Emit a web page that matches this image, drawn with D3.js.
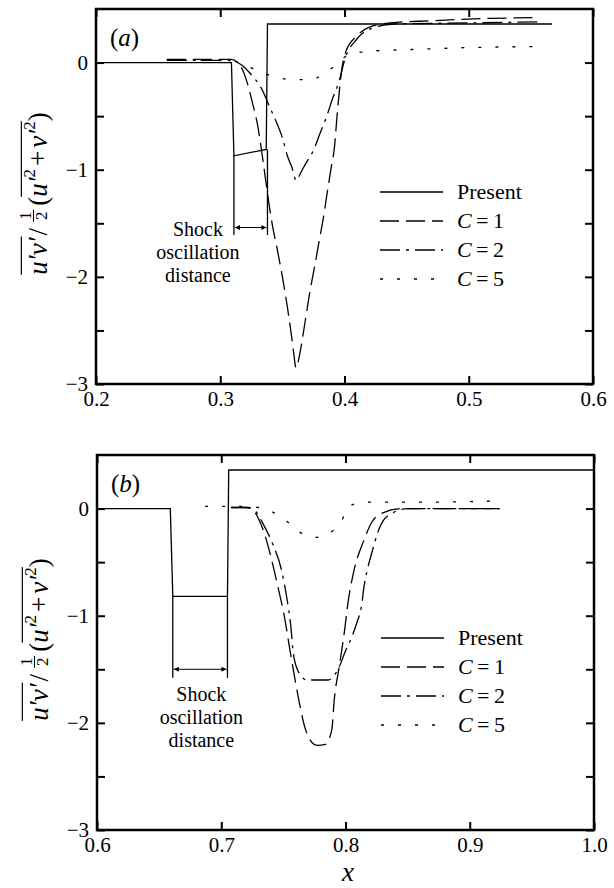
<!DOCTYPE html>
<html>
<head>
<meta charset="utf-8">
<script src="https://cdn.jsdelivr.net/npm/d3@7"></script>
<style>
  body { margin: 0; background: #fff; }
  svg { display: block; }
  text { font-family: "Liberation Serif", "Times New Roman", serif; fill: #000; }
</style>
</head>
<body>
<div id="chart"></div>
<script>
// ---- data: [x, u'v' / (1/2)(u'^2+v'^2)] ----

// panel (a)
var presentA = [[0.2, 0], [0.309, 0], [0.311, -0.87], [0.337, -0.81], [0.338, 0.36], [0.567, 0.36]];
var c1A = [[0.257, 0.03], [0.300, 0.03], [0.309, 0.03], [0.314, 0.0], [0.318, -0.07], [0.322, -0.2],
  [0.326, -0.38], [0.330, -0.58], [0.333, -0.8], [0.336, -1.05], [0.339, -1.3], [0.342, -1.52],
  [0.346, -1.75], [0.350, -2.0], [0.354, -2.28], [0.357, -2.52], [0.359, -2.7], [0.361, -2.85],
  [0.364, -2.72], [0.368, -2.44], [0.372, -2.15], [0.376, -1.9], [0.380, -1.64], [0.383, -1.45],
  [0.386, -1.22], [0.389, -1.0], [0.392, -0.78], [0.394, -0.5], [0.396, -0.25], [0.398, -0.05],
  [0.401, 0.1], [0.410, 0.25], [0.420, 0.33], [0.437, 0.37], [0.470, 0.39], [0.510, 0.41], [0.557, 0.42]];
var c2A = [[0.257, 0.02], [0.305, 0.02], [0.312, 0.01], [0.318, -0.03], [0.324, -0.1], [0.334, -0.26],
  [0.340, -0.42], [0.345, -0.55], [0.350, -0.7], [0.354, -0.87], [0.358, -0.99], [0.361, -1.1],
  [0.366, -1.0], [0.370, -0.92], [0.375, -0.82], [0.380, -0.67], [0.386, -0.49], [0.390, -0.35],
  [0.396, -0.16], [0.400, 0.02], [0.410, 0.22], [0.422, 0.32], [0.440, 0.36], [0.500, 0.37], [0.557, 0.38]];
var c5A = [[0.257, 0.02], [0.305, 0.02], [0.315, 0.0], [0.325, -0.05], [0.335, -0.1], [0.346, -0.14],
  [0.358, -0.16], [0.372, -0.16], [0.384, -0.1], [0.390, -0.05], [0.395, 0.0], [0.400, 0.05],
  [0.410, 0.09], [0.425, 0.11], [0.450, 0.12], [0.500, 0.14], [0.557, 0.15]];

// panel (b)
var presentB = [[0.6, 0], [0.659, 0], [0.661, -0.82], [0.705, -0.82], [0.706, 0.36], [1.0, 0.36]];
var c1B = [[0.708, 0.01], [0.720, 0.01], [0.726, -0.02], [0.731, -0.12], [0.736, -0.28], [0.741, -0.5],
  [0.746, -0.75], [0.751, -1.02], [0.755, -1.3], [0.759, -1.57], [0.763, -1.82], [0.767, -2.03],
  [0.771, -2.15], [0.777, -2.21], [0.784, -2.2], [0.789, -2.06], [0.791, -1.78], [0.795, -1.47],
  [0.799, -1.16], [0.802, -0.88], [0.807, -0.57], [0.815, -0.29], [0.821, -0.13], [0.830, -0.04],
  [0.845, 0.0], [0.924, 0.0]];
var c2B = [[0.708, 0.01], [0.722, 0.01], [0.728, -0.03], [0.734, -0.15], [0.741, -0.32], [0.749, -0.6],
  [0.753, -0.85], [0.756, -1.1], [0.758, -1.35], [0.762, -1.52], [0.769, -1.6], [0.786, -1.6],
  [0.794, -1.5], [0.800, -1.33], [0.805, -1.2], [0.809, -1.07], [0.813, -0.9], [0.815, -0.72],
  [0.818, -0.55], [0.822, -0.38], [0.826, -0.22], [0.830, -0.12], [0.838, -0.04], [0.850, 0.0], [0.924, 0.0]];
var c5B = [[0.687, 0.02], [0.720, 0.02], [0.730, 0.01], [0.741, -0.03], [0.753, -0.12], [0.763, -0.22],
  [0.775, -0.27], [0.787, -0.23], [0.797, -0.11], [0.803, 0.02], [0.810, 0.05], [0.817, 0.06],
  [0.860, 0.06], [0.920, 0.07]];

// shock positions (start / end of the oscillation)
var shockA = [0.311, 0.338];
var shockB = [0.661, 0.705];

// ticks and labels
var xTicksA = [0.2, 0.3, 0.4, 0.5, 0.6];
var xTicksB = [0.6, 0.7, 0.8, 0.9, 1.0];
var yTicks = [0, -0.5, -1, -1.5, -2, -2.5, -3];
var seriesNames = ["Present", "C = 1", "C = 2", "C = 5"];
var noteLines = ["Shock", "oscillation", "distance"];

// ---- layout ----
var W = 614, H = 888;
var width = 497, height = 375;
var dashes = [null, "19,7", "20,6,3,6", "3,14"];

var svg = d3.select("#chart")
  .append("svg")
  .attr("width", W)
  .attr("height", H);

svg.append("rect").attr("width", W).attr("height", H).attr("fill", "#fff");

function drawPanel(opt) {
  var g = svg.append("g")
    .attr("transform", "translate(" + opt.left + "," + opt.top + ")");

  var x = d3.scaleLinear().domain([opt.xTicks[0], opt.xTicks[opt.xTicks.length - 1]]).range([0, width]);
  var y = d3.scaleLinear().domain([-3, 0.5]).range([height, 0]);

  // bottom axis with labels, ticks inward
  var bx = g.append("g")
    .attr("transform", "translate(0," + height + ")")
    .call(d3.axisBottom(x).tickValues(opt.xTicks).tickSize(-8).tickPadding(7).tickFormat(d3.format(".1f")));
  // top
  var tx = g.append("g")
    .call(d3.axisTop(x).tickValues(opt.xTicks).tickSize(-8).tickFormat(""));
  // left with integer labels
  var ly = g.append("g")
    .call(d3.axisLeft(y).tickValues(yTicks).tickSize(-8).tickPadding(8)
      .tickFormat(function(d) {
        if (d % 1 !== 0) return "";
        return d < 0 ? "\u2212" + Math.abs(d) : "0";
      }));
  // right
  var ry = g.append("g")
    .attr("transform", "translate(" + width + ",0)")
    .call(d3.axisRight(y).tickValues(yTicks).tickSize(-8).tickFormat(""));

  [bx, tx, ly, ry].forEach(function(a) {
    a.select(".domain").remove();
    a.attr("font-size", 21).attr("font-family", null);
    a.selectAll("line").attr("stroke", "#000").attr("stroke-width", 2);
  });

  // frame
  g.append("rect")
    .attr("width", width)
    .attr("height", height)
    .attr("fill", "none")
    .attr("stroke", "#000")
    .attr("stroke-width", 2.5);

  // curves
  var straight = d3.line().x(function(d) { return x(d[0]); }).y(function(d) { return y(d[1]); });
  var smooth = d3.line().x(function(d) { return x(d[0]); }).y(function(d) { return y(d[1]); })
    .curve(d3.curveMonotoneX);

  opt.series.forEach(function(s, i) {
    g.append("path")
      .datum(s)
      .attr("d", i === 0 ? straight : smooth)
      .attr("fill", "none")
      .attr("stroke", "#000")
      .attr("stroke-width", 1.3)
      .attr("stroke-dasharray", dashes[i]);
  });

  // shock oscillation distance marker
  var sh = opt.shock;
  var topY = [opt.series[0][2][1], opt.series[0][3][1]];
  sh.forEach(function(s, i) {
    g.append("line")
      .attr("x1", x(s)).attr("x2", x(s))
      .attr("y1", y(topY[i])).attr("y2", y(opt.markBottom))
      .attr("stroke", "#000").attr("stroke-width", 1.3);
  });
  g.append("line")
    .attr("x1", x(sh[0]) + 1).attr("x2", x(sh[1]) - 1)
    .attr("y1", y(opt.arrowY)).attr("y2", y(opt.arrowY))
    .attr("stroke", "#000").attr("stroke-width", 1.1)
    .attr("marker-start", "url(#arrow)")
    .attr("marker-end", "url(#arrow)");

  noteLines.forEach(function(d, i) {
    g.append("text")
      .attr("text-anchor", "middle")
      .attr("font-size", 20)
      .attr("x", x(opt.noteX))
      .attr("y", y(opt.noteY) + i * 23)
      .text(d);
  });

  // panel tag
  var tag = g.append("text")
    .attr("x", 14).attr("y", 37)
    .attr("font-size", 25);
  tag.append("tspan").text("(");
  tag.append("tspan").attr("font-style", "italic").text(opt.tag);
  tag.append("tspan").text(")");

  // legend
  var rows = [183, 212, 241, 270];
  seriesNames.forEach(function(name, i) {
    g.append("line")
      .attr("x1", 284).attr("x2", 347)
      .attr("y1", rows[i]).attr("y2", rows[i])
      .attr("stroke", "#000").attr("stroke-width", 1.3)
      .attr("stroke-dasharray", dashes[i]);
    var t = g.append("text")
      .attr("x", 361).attr("y", rows[i] + 7)
      .attr("font-size", 22);
    if (i === 0) {
      t.text(name);
    } else {
      t.append("tspan").attr("font-style", "italic").text("C");
      t.append("tspan").text("\u2009=\u2009" + name.split("= ")[1]);
    }
  });

  yLabel(g, -49, height / 2 - 3);
  return {x: x, y: y};
}

// y label: overline(u'v') / (1/2) (overline(u'^2 + v'^2)), written bottom to top
function yLabel(g, bx, cy) {
  var fs = 27;
  var sub = 17;
  var outer = g.append("g").attr("transform", "translate(" + bx + "," + cy + ") rotate(-90)");
  var lab = outer.append("g");
  var cur = 0;

  function piece(txt, italic, size, dy) {
    var t = lab.append("text")
      .attr("x", cur).attr("y", dy || 0)
      .attr("font-size", size || fs)
      .attr("font-style", italic ? "italic" : null)
      .text(txt);
    var w = t.node().getComputedTextLength();
    var s = cur;
    cur += w;
    return [s, cur];
  }
  function overline(a, b) {
    lab.append("line")
      .attr("x1", a).attr("x2", b)
      .attr("y1", -fs * 0.95).attr("y2", -fs * 0.95)
      .attr("stroke", "#000").attr("stroke-width", 1.2);
  }

  var p1 = piece("u\u2032v\u2032", true);
  overline(p1[0], p1[1] + 1);
  cur += 2;
  piece("/", false);
  cur += 6;
  // stacked one half
  var f0 = cur;
  lab.append("text").attr("x", f0 + 6).attr("y", -16).attr("font-size", sub).attr("text-anchor", "middle").text("1");
  lab.append("line").attr("x1", f0).attr("x2", f0 + 12).attr("y1", -13.5).attr("y2", -13.5)
    .attr("stroke", "#000").attr("stroke-width", 1);
  lab.append("text").attr("x", f0 + 6).attr("y", 0).attr("font-size", sub).attr("text-anchor", "middle").text("2");
  cur += 16;
  piece("(", false);
  var a = piece("u\u2032", true);
  piece("2", false, sub, -12);
  cur += 3;
  piece("+", false);
  cur += 3;
  piece("v\u2032", true);
  var b = piece("2", false, sub, -12);
  overline(a[0], b[1]);
  piece(")", false);

  lab.attr("transform", "translate(" + (-cur / 2) + ",0)");
}

// arrow head marker
svg.append("defs").append("marker")
  .attr("id", "arrow")
  .attr("viewBox", "0 0 10 10")
  .attr("refX", 10).attr("refY", 5)
  .attr("markerWidth", 7).attr("markerHeight", 5)
  .attr("markerUnits", "userSpaceOnUse")
  .attr("orient", "auto-start-reverse")
  .append("path")
  .attr("d", "M0,0L10,5L0,10Z")
  .attr("fill", "#000");

drawPanel({
  left: 96, top: 9, tag: "a",
  xTicks: xTicksA,
  series: [presentA, c1A, c2A, c5A],
  shock: shockA,
  markBottom: -1.61, arrowY: -1.54,
  noteX: 0.282, noteY: -1.62
});

drawPanel({
  left: 97, top: 455, tag: "b",
  xTicks: xTicksB,
  series: [presentB, c1B, c2B, c5B],
  shock: shockB,
  markBottom: -1.58, arrowY: -1.5,
  noteX: 0.684, noteY: -1.8
});

// x axis title
svg.append("text")
  .attr("x", 348).attr("y", 881)
  .attr("text-anchor", "middle")
  .attr("font-size", 27)
  .attr("font-style", "italic")
  .text("x");
</script>
</body>
</html>
